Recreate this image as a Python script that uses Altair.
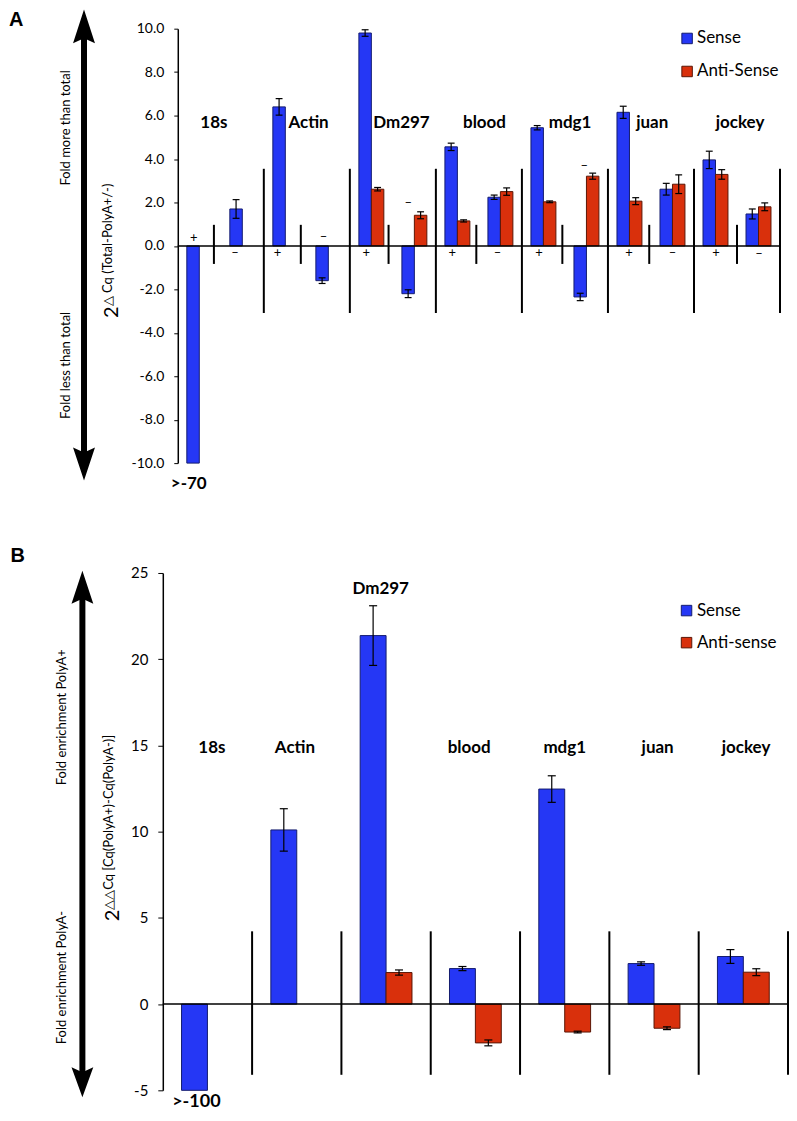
import altair as alt
import pandas as pd

FONT = "Lato"
BLUE, RED = "#2537F5", "#D9300C"
BLUE_EDGE, RED_EDGE = "#141c6e", "#5a1606"

genes_A = ["18s", "Actin", "Dm297", "blood", "mdg1", "juan", "jockey"]
slot_signs_A = ["+", "–", "+", "–", "+", "–", "+", "–", "+", "–", "+", "–", "+", "–"]
sense_A = [-10.0, 1.7, 6.4, -1.6, 9.8, -2.2, 4.56, 2.24, 5.44, -2.35, 6.15, 2.61, 3.96, 1.47]
sense_A_err = [None, 0.43, 0.38, 0.13, 0.15, 0.18, 0.17, 0.10, 0.10, 0.17, 0.28, 0.27, 0.40, 0.23]
anti_A = [None, None, None, None, 2.61, 1.41, 1.15, 2.50, 2.03, 3.21, 2.06, 2.84, 3.29, 1.80]
anti_A_err = [None, None, None, None, 0.08, 0.16, 0.05, 0.17, 0.04, 0.14, 0.16, 0.43, 0.22, 0.18]
strands_A = ["Sense", "Anti-Sense"]

sign_x_A = [0.37, 1.33, 2.32, 3.39, 4.38, 5.36, 6.38, 7.43, 8.40, 9.45, 10.49, 11.50, 12.51, 13.51]
sign_y_A = [0.35, -0.33, -0.33, 0.40, -0.33, 1.97, -0.33, -0.33, -0.33, 3.67, -0.33, -0.33, -0.33, -0.38]
gene_x_A = [0.84, 3.04, 5.20, 7.13, 9.12, 11.03, 13.07]
gene_y_A = [5.65] * 7
long_x_A = [2, 4, 6, 8, 10, 12, 14]
short_x_A = [0.84, 2.86, 4.90, 6.94, 8.94, 10.96, 13.00]
legend_y_A = [9.55, 8.03]

genes_B = ["18s", "Actin", "Dm297", "blood", "mdg1", "juan", "jockey"]
sense_B = [-5.0, 10.1, 21.37, 2.06, 12.47, 2.35, 2.76]
sense_B_err = [None, 1.23, 1.73, 0.12, 0.77, 0.10, 0.40]
anti_B = [None, None, 1.83, -2.25, -1.62, -1.40, 1.85]
anti_B_err = [None, None, 0.15, 0.17, 0.05, 0.08, 0.20]
strands_B = ["Sense", "Anti-sense"]

gene_x_B = [0.55, 1.48, 2.44, 3.43, 4.50, 5.54, 6.53]
gene_y_B = [14.84, 14.84, 24.08, 14.84, 14.84, 14.84, 14.84]
sep_x_B = [1, 2, 3, 4, 5, 6, 7]
legend_y_B = [22.82, 20.96]

BW = 0.29


def bar_tables(series, cap):
    bars, errs = [], []
    for strand, vals, evals, side in series:
        for i, (v, e) in enumerate(zip(vals, evals)):
            if v is None:
                continue
            c = i + 0.5
            x0, x1 = (c - BW, c) if side == "left" else (c, c + BW)
            xc = (x0 + x1) / 2
            bars.append(dict(strand=strand, value=v, x0=x0, x1=x1))
            if e is not None:
                errs.append(dict(xc=xc, lo=v - e, hi=v + e, cl=xc - cap, cr=xc + cap))
    return pd.DataFrame(bars), pd.DataFrame(errs)


def panel(bars, errs, xs, ys, yaxis, domain, zero_span, w, h, extra_layers):
    X = lambda f: alt.X(f, scale=xs, axis=None, title=None)
    Y = lambda f: alt.Y(f, scale=ys, axis=yaxis, title=None)
    fill = alt.Color("strand:N", scale=alt.Scale(domain=domain, range=[BLUE, RED]), legend=None)
    edge = alt.Stroke("strand:N", scale=alt.Scale(domain=domain, range=[BLUE_EDGE, RED_EDGE]), legend=None)
    bar_layer = alt.Chart(bars).mark_bar(strokeWidth=1).encode(
        x=X("x0:Q"), x2="x1:Q", y=Y("value:Q"), y2=alt.datum(0), color=fill, stroke=edge)
    ev = alt.Chart(errs).mark_rule(color="black", strokeWidth=1.2).encode(x=X("xc:Q"), y=Y("lo:Q"), y2="hi:Q")
    ct = alt.Chart(errs).mark_rule(color="black", strokeWidth=1.2).encode(x=X("cl:Q"), x2="cr:Q", y=Y("hi:Q"))
    cb = alt.Chart(errs).mark_rule(color="black", strokeWidth=1.2).encode(x=X("cl:Q"), x2="cr:Q", y=Y("lo:Q"))
    zero = alt.Chart(pd.DataFrame({"x": [zero_span[0]], "x2": [zero_span[1]], "y": [0]})).mark_rule(
        color="black", strokeWidth=1.5).encode(x=X("x:Q"), x2="x2:Q", y=Y("y:Q"))
    layers = [bar_layer, ev, ct, cb, zero] + [l(X, Y, fill, edge) for l in extra_layers]
    return alt.layer(*layers).properties(width=w, height=h)


def legend_layers(domain, x_sym, x_txt, ys):
    df = pd.DataFrame({"strand": domain, "xs": [x_sym] * 2, "xt": [x_txt] * 2, "y": ys})

    def f(X, Y, fill, edge):
        sq = alt.Chart(df).mark_square(size=110, opacity=1, strokeWidth=1).encode(
            x=X("xs:Q"), y=Y("y:Q"), color=fill, stroke=edge)
        tx = alt.Chart(df).mark_text(font=FONT, fontSize=17, align="left", baseline="middle",
                                     color="black").encode(x=X("xt:Q"), y=Y("y:Q"), text="strand:N")
        return alt.layer(sq, tx)
    return [f]


def arrow_layers(x, half_w, up_tip, up_notch, up_base, dn_tip, dn_notch, dn_base):
    def shaft(X, Y, fill, edge):
        return alt.Chart(pd.DataFrame({"x": [x], "y": [up_notch + (up_tip - up_notch) * 0.1],
                                       "y2": [dn_notch + (dn_tip - dn_notch) * 0.1]})).mark_rule(
            color="black", strokeWidth=6).encode(x=X("x:Q"), y=Y("y:Q"), y2="y2:Q")

    def heads(X, Y, fill, edge):
        df = pd.DataFrame({
            "x": [x - half_w, x, x + half_w] * 2,
            "outer": [up_base, up_tip, up_base, dn_base, dn_tip, dn_base],
            "inner": [up_base, up_notch, up_base, dn_base, dn_notch, dn_base],
            "head": ["up"] * 3 + ["down"] * 3,
        })
        return alt.Chart(df).mark_area(color="black", opacity=1, interpolate="linear").encode(
            x=X("x:Q"), y=Y("outer:Q"), y2="inner:Q", detail="head:N")
    return [shaft, heads]


def text_layer(df, size, weight="normal", align="center", baseline="middle", angle=0, font=FONT):
    kw = dict(font=font, fontSize=size, fontWeight=weight, align=align, baseline=baseline, color="black")
    if angle:
        kw["angle"] = angle

    def f(X, Y, fill, edge):
        return alt.Chart(df).mark_text(**kw).encode(x=X("x:Q"), y=Y("y:Q"), text="t:N")
    return f


def rule_layer(df, width=2):
    def f(X, Y, fill, edge):
        return alt.Chart(df).mark_rule(color="black", strokeWidth=width).encode(
            x=X("x:Q"), y=Y("y:Q"), y2="y2:Q")
    return f


# ---------------- Panel A ----------------
barsA, errsA = bar_tables([("Sense", sense_A, sense_A_err, "left"),
                           ("Anti-Sense", anti_A, anti_A_err, "right")], cap=0.08)
xsA = alt.Scale(domain=[0, 14], nice=False, zero=False)
ysA = alt.Scale(domain=[-10, 10], nice=False, zero=False)
yaxisA = alt.Axis(values=list(range(-10, 11, 2)), grid=False, tickSize=4, tickColor="black",
                  domainColor="black", domainWidth=1.5, labelFont=FONT, labelFontSize=14,
                  labelColor="black", labelPadding=10, title=None,
                  labelExpr="(datum.value < 0 ? '-' : '') + format(abs(datum.value), '.1f')")
sepA = pd.DataFrame({"x": long_x_A + short_x_A,
                     "y": [3.55] * 7 + [0.97] * 7,
                     "y2": [-3.09] * 7 + [-0.83] * 7})
extraA = [
    rule_layer(sepA, 2),
    text_layer(pd.DataFrame({"x": sign_x_A, "y": sign_y_A, "t": slot_signs_A}), size=13),
    text_layer(pd.DataFrame({"x": gene_x_A, "y": gene_y_A, "t": genes_A}), size=17, weight="bold"),
    text_layer(pd.DataFrame({"x": [0.255], "y": [-10.94], "t": [">-70"]}), size=17, weight="bold"),
    text_layer(pd.DataFrame({"x": [-3.924], "y": [10.88], "t": ["A"]}), size=20, weight="bold",
               align="left", baseline="top", font="Liberation Sans"),
    text_layer(pd.DataFrame({"x": [-2.6, -2.6], "y": [5.43, -5.5],
                             "t": ["Fold more than total", "Fold less than total"]}), size=13, angle=270),
    text_layer(pd.DataFrame({"x": [-1.54], "y": [-2.78], "t": ["△ Cq (Total-PolyA+/-)"]}), size=13,
               angle=270, align="left", baseline="alphabetic"),
    text_layer(pd.DataFrame({"x": [-1.393], "y": [-2.78], "t": ["2"]}), size=20,
               angle=270, align="right", baseline="alphabetic"),
] + arrow_layers(-2.18, 0.255, 10.88, 9.564, 9.334, -10.797, -9.507, -9.276) \
  + legend_layers(strands_A, 11.84, 12.07, legend_y_A)
chartA = panel(barsA, errsA, xsA, ysA, yaxisA, strands_A, [0, 14], 603, 435, extraA)

# ---------------- Panel B ----------------
# plot area starts 15 px right of the axis so both panels share an origin; axis is offset back out
barsB, errsB = bar_tables([("Sense", sense_B, sense_B_err, "left"),
                           ("Anti-sense", anti_B, anti_B_err, "right")], cap=0.045)
xsB = alt.Scale(domain=[0.168, 7], nice=False, zero=False)
ysB = alt.Scale(domain=[-5, 25], nice=False, zero=False)
yaxisB = alt.Axis(values=list(range(-5, 26, 5)), grid=False, tickSize=5, tickColor="black",
                  domainColor="black", domainWidth=1.5, labelFont=FONT, labelFontSize=15,
                  labelColor="black", labelPadding=10, title=None, offset=15,
                  labelExpr="(datum.value < 0 ? '-' : '') + format(abs(datum.value), 'd')")
sepB = pd.DataFrame({"x": sep_x_B, "y": [4.22] * 7, "y2": [-4.1] * 7})
extraB = [
    rule_layer(sepB, 2),
    text_layer(pd.DataFrame({"x": gene_x_B, "y": gene_y_B, "t": genes_B}), size=17, weight="bold"),
    text_layer(pd.DataFrame({"x": [0.376], "y": [-5.7], "t": [">-100"]}), size=18, weight="bold"),
    text_layer(pd.DataFrame({"x": [-1.7054], "y": [26.56], "t": ["B"]}), size=20, weight="bold",
               align="left", baseline="top", font="Liberation Sans"),
    text_layer(pd.DataFrame({"x": [-1.13, -1.13], "y": [16.63, 1.54],
                             "t": ["Fold enrichment PolyA+", "Fold enrichment PolyA-"]}), size=13, angle=270),
    text_layer(pd.DataFrame({"x": [-0.554], "y": [5.47], "t": ["△△Cq [Cq(PolyA+)-Cq(PolyA-)]"]}), size=13,
               angle=270, align="left", baseline="alphabetic"),
    text_layer(pd.DataFrame({"x": [-0.487], "y": [5.47], "t": ["2"]}), size=20,
               angle=270, align="right", baseline="alphabetic"),
] + arrow_layers(-0.90, 0.122, 25.13, 23.51, 23.22, -5.4, -3.95, -3.66) \
  + legend_layers(strands_B, 5.864, 5.98, legend_y_B)
chartB = panel(barsB, errsB, xsB, ysB, yaxisB, strands_B, [0, 7], 611, 518, extraB)

chart = alt.vconcat(chartA, chartB, spacing=54).resolve_scale(
    x="independent", y="independent", color="independent", stroke="independent"
).properties(padding=0).configure_view(stroke=None)

chart.save("out.html", embed_options={"renderer": "svg", "actions": False})
